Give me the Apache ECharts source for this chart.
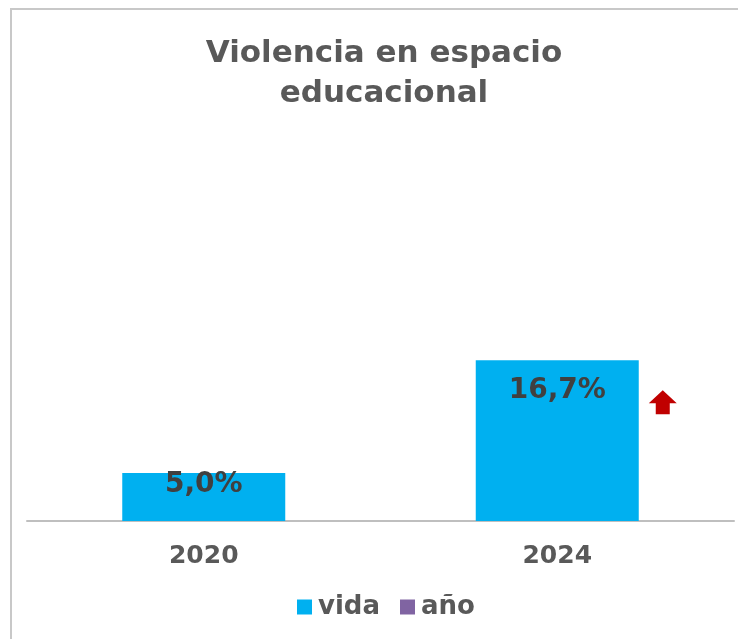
<!DOCTYPE html>
<html><head><meta charset="utf-8">
<script src="https://cdn.jsdelivr.net/npm/echarts@6/dist/echarts.min.js"></script>
<style>html,body{margin:0;padding:0;background:#fff}#c{width:738px;height:639px}</style>
</head><body><div id="c"></div>
<script>
const titleText = 'Violencia en espacio\neducacional';
const categories = ['2020', '2024'];
const seriesNames = ['vida', 'año'];
const vidaValues = [5.0, 16.7];
const anoValues = [null, null];

const FONT = 'DejaVu Sans';
const chart = echarts.init(document.getElementById('c'));
const option = {
  animation: false,
  backgroundColor: '#fff',
  title: {
    text: titleText, left: 379, top: 29, textAlign: 'center',
    textStyle: { fontFamily: FONT, fontSize: 31, fontWeight: 'bold', color: '#595959', lineHeight: 40 }
  },
  legend: {
    data: seriesNames, top: 589, left: 292, itemWidth: 15, itemHeight: 15, icon: 'rect', itemGap: 20,
    textStyle: { fontFamily: FONT, fontSize: 26, fontWeight: 'bold', color: '#595959', padding: [0, 0, 0, 1] }
  },
  grid: { left: 27, right: 4, top: 136, bottom: 118 },
  xAxis: {
    type: 'category', data: categories,
    axisLine: { lineStyle: { color: '#BFBFBF', width: 2 } },
    axisTick: { show: false },
    axisLabel: { margin: 23, fontFamily: FONT, fontSize: 25, fontWeight: 'bold', color: '#595959' }
  },
  yAxis: { type: 'value', min: 0, max: 40, show: false, splitLine: { show: false } },
  series: [
    {
      name: 'vida', type: 'bar', barWidth: 163, barGap: '-100%',
      itemStyle: { color: '#00B0F0' },
      data: vidaValues.map((v, i) => ({
        value: v,
        label: { show: true, position: 'insideTop', distance: i === 0 ? -2 : 16,
          formatter: p => p.value.toFixed(1).replace('.', ',') + '%',
          fontFamily: FONT, fontSize: 28, fontWeight: 'bold', color: '#404040' }
      }))
    },
    { name: 'año', type: 'bar', barWidth: 163, itemStyle: { color: '#8064A2' }, data: anoValues }
  ]
};
chart.setOption(option);

// border and arrow annotation placed from the chart's own scale
const top2 = chart.convertToPixel({ gridIndex: 0 }, [1, vidaValues[1]]);
const ax = top2[0] + 163 / 2 + 24;
const ay = top2[1] + 30;
chart.setOption({
  graphic: [
    { type: 'polyline', shape: { points: [[11, 640], [11, 9], [740, 9]] }, style: { fill: 'none', stroke: '#C8C8C8', lineWidth: 2 }, silent: true },
    { type: 'polygon', shape: { points: [[ax, ay], [ax + 14, ay + 13], [ax + 7, ay + 13], [ax + 7, ay + 24], [ax - 7, ay + 24], [ax - 7, ay + 13], [ax - 14, ay + 13]] },
      style: { fill: '#C00000' } }
  ]
});
</script></body></html>
